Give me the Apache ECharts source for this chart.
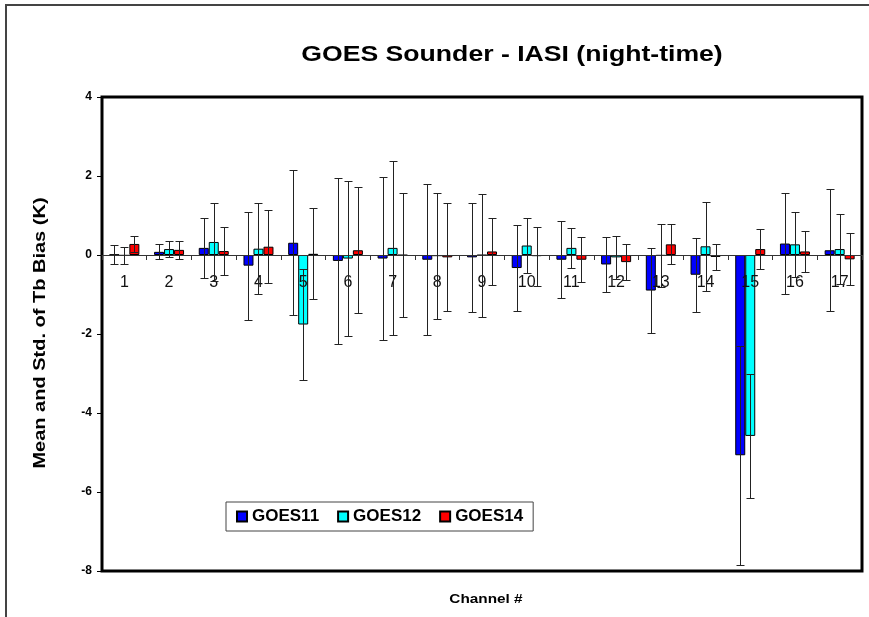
<!DOCTYPE html>
<html>
<head>
<meta charset="utf-8">
<script src="https://cdn.jsdelivr.net/npm/echarts@6/dist/echarts.min.js"></script>
<style>
html, body { margin: 0; padding: 0; background: #fff; }
#chart { width: 869px; height: 617px; }
</style>
</head>
<body>
<div id="chart"></div>
<script>
// channel numbers on the x axis
var channels = ["1", "2", "3", "4", "5", "6", "7", "8", "9", "10", "11", "12", "13", "14", "15", "16", "17"];
var yTicks = { min: -8, max: 4, step: 2 };

// mean Tb bias (K) per channel
var goes11Mean = [0.01, 0.08, 0.18, -0.27, 0.31, -0.15, -0.09, -0.12, -0.06, -0.33, -0.12, -0.24, -0.90, -0.50, -5.07, 0.29, 0.12];
var goes12Mean = [-0.02, 0.15, 0.33, 0.16, -1.76, -0.09, 0.18, -0.03, -0.01, 0.24, 0.18, -0.06, -0.02, 0.22, -4.58, 0.27, 0.15];
var goes14Mean = [0.28, 0.13, 0.10, 0.21, 0.03, 0.12, -0.01, -0.06, 0.09, -0.03, -0.12, -0.18, 0.27, -0.05, 0.15, 0.09, -0.11];

// standard deviation (K), drawn as error bars
var goes11Std = [0.24, 0.19, 0.75, 1.37, 1.83, 2.10, 2.07, 1.91, 1.38, 1.08, 0.98, 0.69, 1.07, 0.94, 2.77, 1.28, 1.54];
var goes12Std = [0.22, 0.20, 0.98, 1.15, 1.41, 1.97, 2.21, 1.59, 1.56, 0.69, 0.51, 0.54, 0.80, 1.12, 1.57, 0.83, 0.88];
var goes14Std = [0.20, 0.23, 0.61, 0.93, 1.15, 1.59, 1.57, 1.37, 0.85, 0.75, 0.57, 0.45, 0.51, 0.34, 0.50, 0.53, 0.66];

var BAR_W = 10;
var GRID_TOP = 97, GRID_BOTTOM = 46, CHART_H = 617;
// move the category axis up to the zero line
var plotH = CHART_H - GRID_TOP - GRID_BOTTOM;
var zeroShift = plotH * (0 - yTicks.min) / (yTicks.max - yTicks.min);

function errorData(mean, std) {
    return mean.map(function(m, i) {
        return [i, m - std[i], m + std[i]];
    });
}

function errorItem(offset) {
    return function(params, api) {
        var idx = api.value(0);
        var lo = api.coord([idx, api.value(1)]);
        var hi = api.coord([idx, api.value(2)]);
        var x = Math.round(lo[0] + offset) + 0.5;
        var y1 = Math.round(hi[1]) + 0.5;
        var y2 = Math.round(lo[1]) + 0.5;
        var cap = 4;
        var st = { stroke: "#222", lineWidth: 1 };
        return {
            type: "group",
            children: [
                { type: "line", shape: { x1: x, y1: y1, x2: x, y2: y2 }, style: st },
                { type: "line", shape: { x1: x - cap, y1: y1, x2: x + cap, y2: y1 }, style: st },
                { type: "line", shape: { x1: x - cap, y1: y2, x2: x + cap, y2: y2 }, style: st }
            ]
        };
    };
}

function errorSeries(name, mean, std, offset) {
    return {
        name: name,
        type: "custom",
        renderItem: errorItem(offset),
        encode: { x: 0, y: [1, 2] },
        data: errorData(mean, std),
        z: 5,
        silent: true
    };
}

function barSeries(name, color, data) {
    return {
        name: name,
        type: "bar",
        barWidth: BAR_W,
        barGap: "0%",
        itemStyle: { color: color, borderColor: "#000", borderWidth: 1 },
        data: data
    };
}

// the original text is stretched along its reading direction
function stretchedText(str, x, y, size, sx, rot) {
    return {
        type: "text",
        x: x,
        y: y,
        rotation: rot || 0,
        scaleX: sx,
        style: {
            text: str,
            align: "center",
            verticalAlign: "middle",
            fontFamily: "Arial, Liberation Sans",
            fontWeight: "bold",
            fontSize: size,
            fill: "#000"
        },
        z: 10
    };
}

var chart = echarts.init(document.getElementById("chart"), null, { renderer: "canvas" });

var option = {
    animation: false,
    backgroundColor: "#fff",
    graphic: [
        {
            type: "rect",
            shape: { x: 6, y: 5, width: 900, height: 700 },
            style: { fill: "none", stroke: "#444", lineWidth: 2 },
            z: -1
        },
        stretchedText("GOES Sounder - IASI (night-time)", 512, 55, 22, 1.21),
        stretchedText("Channel #", 486, 599, 13, 1.18),
        stretchedText("Mean and Std. of Tb Bias (K)", 41, 333, 16, 1.25, Math.PI / 2)
    ],
    legend: {
        data: ["GOES11", "GOES12", "GOES14"],
        left: 226,
        top: 502,
        padding: [6, 10],
        itemGap: 18,
        itemWidth: 10,
        itemHeight: 10,
        icon: "rect",
        backgroundColor: "#fff",
        borderColor: "#444",
        borderWidth: 1,
        borderRadius: 0,
        textStyle: { fontFamily: "Arial, Liberation Sans", fontWeight: "bold", fontSize: 17, color: "#000" }
    },
    grid: {
        left: 102,
        right: 7,
        top: GRID_TOP,
        bottom: GRID_BOTTOM,
        show: true,
        borderColor: "#000",
        borderWidth: 3
    },
    xAxis: {
        type: "category",
        data: channels,
        position: "bottom",
        offset: -zeroShift,
        z: 4,
        axisLine: { onZero: false, lineStyle: { color: "#333", width: 1 } },
        axisTick: { show: true, interval: 0, length: 5, lineStyle: { color: "#333" } },
        axisLabel: {
            interval: 0,
            margin: 20,
            fontFamily: "Arial, Liberation Sans",
            fontSize: 16,
            color: "#111"
        },
        splitLine: { show: false }
    },
    yAxis: {
        type: "value",
        min: yTicks.min,
        max: yTicks.max,
        interval: yTicks.step,
        axisLine: { show: false },
        axisTick: { show: true, length: 5, lineStyle: { color: "#000" } },
        axisLabel: {
            margin: 10,
            fontFamily: "Arial, Liberation Sans",
            fontWeight: "bold",
            fontSize: 12,
            color: "#000"
        },
        splitLine: { show: false }
    },
    series: [
        barSeries("GOES11", "#0000ff", goes11Mean),
        barSeries("GOES12", "#00ffff", goes12Mean),
        barSeries("GOES14", "#ff0000", goes14Mean),
        errorSeries("GOES11 std", goes11Mean, goes11Std, -BAR_W),
        errorSeries("GOES12 std", goes12Mean, goes12Std, 0),
        errorSeries("GOES14 std", goes14Mean, goes14Std, BAR_W)
    ]
};

chart.setOption(option);
</script>
</body>
</html>
